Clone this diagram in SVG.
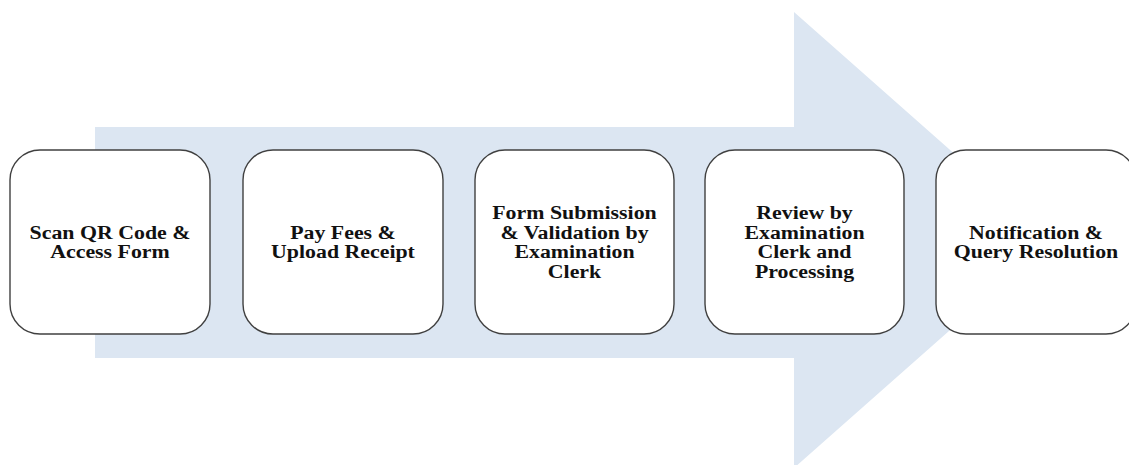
<svg xmlns="http://www.w3.org/2000/svg" width="1129" height="465" viewBox="0 0 1129 465">
<style>
.box{fill:#ffffff;stroke:#404040;stroke-width:1.4}
.lbl{font-family:"Liberation Serif","Times New Roman",serif;font-weight:bold;font-size:19px;fill:#111111;text-anchor:middle}
</style>
<rect width="1129" height="465" fill="#ffffff"/>
<g id="connectors">
<polygon id="flow-arrow" points="95,127 794,127 794,12 1052,240 794,468 794,358 95,358" fill="#dce6f2"/>
</g>
<g id="node1">
<rect class="box" x="10" y="150" width="200" height="184" rx="30" ry="30"/>
<text class="lbl" transform="translate(110 239) scale(1.15 1)">Scan QR Code &amp;</text>
<text class="lbl" transform="translate(110 258) scale(1.15 1)">Access Form</text>
</g>
<g id="node2">
<rect class="box" x="243" y="150" width="200" height="184" rx="30" ry="30"/>
<text class="lbl" transform="translate(343 239) scale(1.15 1)">Pay Fees &amp;</text>
<text class="lbl" transform="translate(343 258) scale(1.15 1)">Upload Receipt</text>
</g>
<g id="node3">
<rect class="box" x="475" y="150" width="199" height="184" rx="30" ry="30"/>
<text class="lbl" transform="translate(574.5 219) scale(1.15 1)">Form Submission</text>
<text class="lbl" transform="translate(574.5 238.5) scale(1.15 1)">&amp; Validation by</text>
<text class="lbl" transform="translate(574.5 258) scale(1.15 1)">Examination</text>
<text class="lbl" transform="translate(574.5 277.5) scale(1.15 1)">Clerk</text>
</g>
<g id="node4">
<rect class="box" x="705" y="150" width="199" height="184" rx="30" ry="30"/>
<text class="lbl" transform="translate(804.5 219) scale(1.15 1)">Review by</text>
<text class="lbl" transform="translate(804.5 238.5) scale(1.15 1)">Examination</text>
<text class="lbl" transform="translate(804.5 258) scale(1.15 1)">Clerk and</text>
<text class="lbl" transform="translate(804.5 277.5) scale(1.15 1)">Processing</text>
</g>
<g id="node5">
<rect class="box" x="936" y="150" width="200" height="184" rx="30" ry="30"/>
<text class="lbl" transform="translate(1036 239) scale(1.15 1)">Notification &amp;</text>
<text class="lbl" transform="translate(1036 258) scale(1.15 1)">Query Resolution</text>
</g>
</svg>
